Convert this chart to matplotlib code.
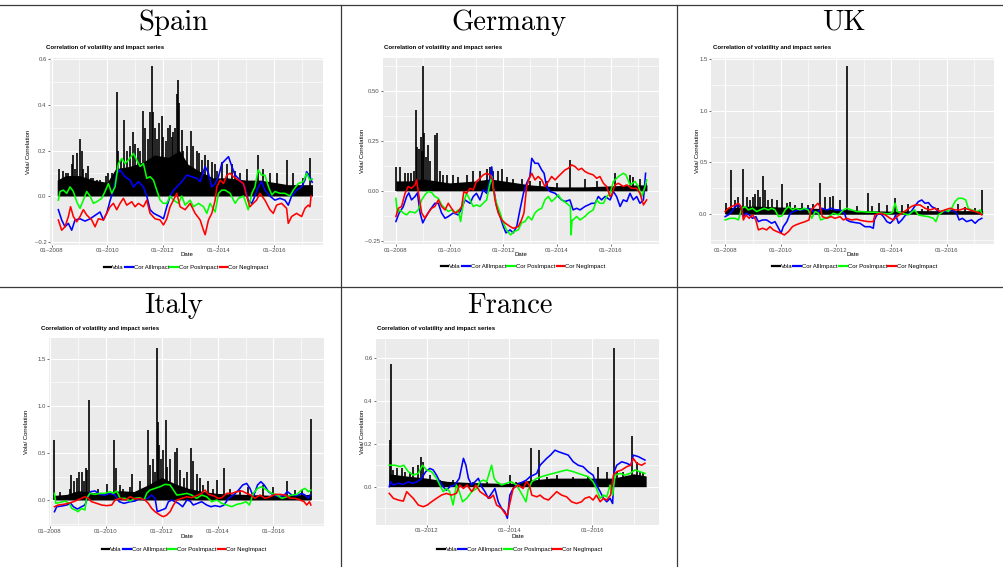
import matplotlib
matplotlib.use('Agg')
import matplotlib.pyplot as plt
from matplotlib.lines import Line2D

plt.rcParams['font.family'] = ['Liberation Sans', 'DejaVu Sans']

# ---------------- DATA (decimal year, value) ----------------
SERIES_NAMES = ['Vola', 'Cor AllImpact', 'Cor PosImpact', 'Cor NegImpact']
SERIES_COLORS = ['#000000', '#0000FF', '#00FF00', '#FF0000']
COUNTRIES = ['Spain', 'Germany', 'UK', 'Italy', 'France']

# ---- Spain ----
ES_ALL = [(2008.24,-0.06),(2008.36,-0.105),(2008.48,-0.135),(2008.60,-0.12),(2008.72,-0.15),(2008.84,-0.105),(2009.02,-0.10),(2009.20,-0.11),(2009.38,-0.10),(2009.56,-0.085),(2009.74,-0.07),(2009.86,-0.105),(2009.98,-0.075),(2010.10,-0.02),(2010.22,0.025),(2010.34,0.10),(2010.46,0.115),(2010.64,0.085),(2010.82,0.07),(2010.94,0.04),(2011.12,0.063),(2011.30,0.04),(2011.42,0.0),(2011.54,-0.06),(2011.66,-0.075),(2011.78,-0.083),(2011.90,-0.09),(2012.02,-0.10),(2012.14,-0.047),(2012.26,0.0),(2012.38,0.025),(2012.50,0.04),(2012.68,0.063),(2012.86,0.092),(2013.04,0.085),(2013.22,0.078),(2013.34,0.063),(2013.52,0.13),(2013.64,0.10),(2013.76,0.04),(2013.88,0.055),(2014.00,0.085),(2014.12,0.143),(2014.24,0.158),(2014.36,0.173),(2014.48,0.13),(2014.60,0.092),(2014.77,0.07),(2014.95,0.04),(2015.07,-0.018),(2015.20,-0.032),(2015.31,0.0),(2015.43,0.04),(2015.55,0.063),(2015.67,0.026),(2015.85,0.0),(2016.03,-0.018),(2016.21,-0.01),(2016.39,-0.018),(2016.51,-0.04),(2016.63,0.0),(2016.81,0.026),(2016.99,0.04),(2017.11,0.07),(2017.17,0.107),(2017.29,0.085),(2017.37,0.06)]
ES_POS = [(2008.24,-0.018),(2008.30,0.02),(2008.42,0.026),(2008.54,0.012),(2008.66,0.04),(2008.78,0.02),(2008.90,-0.025),(2009.02,-0.054),(2009.14,-0.018),(2009.26,0.02),(2009.38,0.0),(2009.50,-0.032),(2009.62,-0.025),(2009.80,-0.01),(2009.92,0.02),(2010.04,0.055),(2010.16,0.012),(2010.28,0.04),(2010.40,0.143),(2010.52,0.165),(2010.64,0.143),(2010.76,0.158),(2010.94,0.187),(2011.06,0.158),(2011.18,0.13),(2011.30,0.143),(2011.42,0.078),(2011.54,0.085),(2011.66,0.07),(2011.78,0.026),(2011.90,-0.018),(2012.02,-0.032),(2012.14,-0.032),(2012.26,0.0),(2012.38,-0.018),(2012.56,-0.032),(2012.68,0.0),(2012.80,-0.04),(2012.98,-0.018),(2013.10,-0.047),(2013.28,-0.032),(2013.46,-0.047),(2013.58,-0.076),(2013.70,-0.032),(2013.88,-0.07),(2014.00,0.012),(2014.12,0.026),(2014.24,0.026),(2014.42,0.012),(2014.60,-0.032),(2014.72,-0.01),(2014.90,0.0),(2015.07,-0.06),(2015.20,0.012),(2015.31,0.04),(2015.43,0.115),(2015.55,0.092),(2015.67,0.092),(2015.80,0.04),(2015.92,0.005),(2016.03,0.02),(2016.21,0.012),(2016.39,0.012),(2016.57,0.0),(2016.69,0.026),(2016.87,0.055),(2017.05,0.063),(2017.17,0.10),(2017.29,0.07),(2017.37,0.075)]
ES_NEG = [(2008.24,-0.105),(2008.36,-0.15),(2008.48,-0.135),(2008.60,-0.09),(2008.68,-0.047),(2008.78,-0.09),(2008.90,-0.113),(2009.02,-0.09),(2009.14,-0.06),(2009.26,-0.083),(2009.44,-0.105),(2009.56,-0.135),(2009.68,-0.10),(2009.86,-0.105),(2009.98,-0.076),(2010.10,-0.047),(2010.22,-0.032),(2010.34,-0.06),(2010.46,-0.032),(2010.58,-0.01),(2010.70,-0.04),(2010.88,-0.025),(2011.00,-0.047),(2011.12,-0.032),(2011.30,-0.047),(2011.42,-0.018),(2011.54,-0.076),(2011.72,-0.10),(2011.90,-0.105),(2012.02,-0.127),(2012.14,-0.10),(2012.26,-0.047),(2012.38,-0.018),(2012.50,0.012),(2012.62,-0.047),(2012.80,-0.06),(2012.98,-0.032),(2013.16,-0.076),(2013.34,-0.105),(2013.46,-0.15),(2013.52,-0.17),(2013.64,-0.105),(2013.76,-0.076),(2013.88,-0.018),(2013.94,0.04),(2014.06,0.07),(2014.18,0.055),(2014.30,0.092),(2014.42,0.10),(2014.54,0.085),(2014.72,0.07),(2014.90,0.055),(2015.01,0.0),(2015.13,-0.047),(2015.25,-0.032),(2015.37,-0.018),(2015.49,0.012),(2015.67,-0.018),(2015.85,-0.06),(2015.97,-0.076),(2016.09,-0.04),(2016.27,-0.032),(2016.45,-0.054),(2016.51,-0.12),(2016.63,-0.09),(2016.81,-0.076),(2016.99,-0.09),(2017.11,-0.054),(2017.23,-0.04),(2017.29,-0.047),(2017.33,0.0)]
ES_VOLA_BASE = [(2008.20,0.07),(2008.50,0.09),(2009.00,0.09),(2009.50,0.07),(2010.00,0.06),(2010.30,0.12),(2010.80,0.13),(2011.30,0.15),(2011.70,0.18),(2012.20,0.17),(2012.60,0.20),(2012.90,0.14),(2013.30,0.11),(2013.80,0.08),(2014.30,0.08),(2015.00,0.07),(2015.50,0.07),(2016.00,0.06),(2016.50,0.05),(2017.00,0.05),(2017.38,0.05)]
ES_VOLA_SPIKES = [(2008.28,0.12),(2008.42,0.11),(2008.52,0.10),(2008.60,0.10),(2008.72,0.14),(2008.76,0.18),(2008.84,0.12),(2008.92,0.19),(2009.02,0.25),(2009.08,0.20),(2009.14,0.12),(2009.24,0.10),(2009.32,0.13),(2009.40,0.08),(2009.50,0.08),(2009.62,0.07),(2009.74,0.07),(2009.95,0.09),(2010.04,0.10),(2010.16,0.10),(2010.34,0.455),(2010.40,0.20),(2010.49,0.16),(2010.60,0.335),(2010.70,0.20),(2010.82,0.22),(2010.91,0.28),(2011.00,0.23),(2011.12,0.21),(2011.18,0.20),(2011.27,0.375),(2011.36,0.30),(2011.45,0.25),(2011.54,0.37),(2011.60,0.57),(2011.66,0.37),(2011.72,0.30),(2011.78,0.25),(2011.87,0.32),(2011.96,0.35),(2012.02,0.26),(2012.10,0.24),(2012.20,0.30),(2012.26,0.31),(2012.32,0.26),(2012.38,0.28),(2012.44,0.30),(2012.50,0.45),(2012.56,0.51),(2012.59,0.41),(2012.68,0.29),(2012.74,0.20),(2012.86,0.22),(2013.00,0.285),(2013.10,0.22),(2013.22,0.20),(2013.31,0.19),(2013.40,0.16),(2013.52,0.18),(2013.64,0.16),(2013.76,0.15),(2013.88,0.14),(2013.96,0.11),(2014.12,0.15),(2014.30,0.14),(2014.48,0.14),(2014.60,0.11),(2014.77,0.10),(2015.01,0.12),(2015.43,0.18),(2015.61,0.12),(2015.85,0.10),(2016.09,0.10),(2016.45,0.16),(2016.69,0.10),(2017.05,0.08),(2017.29,0.165)]

# ---- Germany ----
DE_ALL = [(2008.00,-0.153),(2008.12,-0.11),(2008.27,-0.08),(2008.40,-0.028),(2008.48,-0.01),(2008.58,-0.045),(2008.71,-0.028),(2008.80,-0.01),(2008.90,-0.11),(2009.00,-0.16),(2009.12,-0.128),(2009.27,-0.095),(2009.45,-0.062),(2009.58,-0.062),(2009.70,-0.11),(2009.83,-0.137),(2009.95,-0.128),(2010.14,-0.11),(2010.32,-0.12),(2010.45,-0.087),(2010.57,-0.045),(2010.76,-0.062),(2010.88,-0.028),(2011.00,-0.012),(2011.13,-0.045),(2011.25,0.005),(2011.38,-0.012),(2011.50,0.055),(2011.57,0.12),(2011.63,0.02),(2011.75,-0.078),(2011.88,-0.128),(2012.00,-0.178),(2012.10,-0.21),(2012.25,-0.195),(2012.37,-0.21),(2012.50,-0.178),(2012.62,-0.095),(2012.75,-0.012),(2012.87,0.038),(2012.99,0.072),(2013.06,0.163),(2013.18,0.138),(2013.30,0.138),(2013.43,0.105),(2013.52,0.088),(2013.61,0.022),(2013.74,-0.003),(2013.93,-0.012),(2014.05,-0.028),(2014.17,-0.045),(2014.30,-0.053),(2014.48,-0.045),(2014.60,-0.095),(2014.73,-0.087),(2014.86,-0.095),(2015.04,-0.078),(2015.17,-0.07),(2015.29,-0.062),(2015.42,-0.062),(2015.54,-0.028),(2015.66,-0.045),(2015.79,-0.028),(2015.98,-0.045),(2016.10,-0.003),(2016.22,-0.028),(2016.35,-0.078),(2016.47,-0.045),(2016.60,-0.053),(2016.72,-0.012),(2016.84,-0.045),(2016.97,-0.028),(2017.09,-0.062),(2017.22,-0.045),(2017.30,0.088)]
DE_POS = [(2008.00,-0.037),(2008.05,-0.11),(2008.15,-0.095),(2008.27,-0.11),(2008.40,-0.12),(2008.52,-0.103),(2008.71,-0.11),(2008.83,-0.095),(2008.96,-0.045),(2009.08,-0.02),(2009.20,-0.003),(2009.33,-0.008),(2009.45,-0.028),(2009.58,-0.037),(2009.70,-0.07),(2009.83,-0.087),(2009.95,-0.103),(2010.07,-0.095),(2010.20,-0.11),(2010.32,-0.095),(2010.41,-0.153),(2010.51,-0.062),(2010.63,-0.012),(2010.76,-0.045),(2010.88,-0.078),(2011.00,-0.07),(2011.13,-0.078),(2011.25,-0.062),(2011.38,-0.045),(2011.48,0.022),(2011.57,0.072),(2011.65,-0.012),(2011.75,-0.062),(2011.88,-0.11),(2012.00,-0.16),(2012.12,-0.195),(2012.27,-0.22),(2012.40,-0.203),(2012.56,-0.195),(2012.68,-0.16),(2012.81,-0.153),(2012.93,-0.128),(2013.06,-0.145),(2013.18,-0.11),(2013.30,-0.095),(2013.43,-0.087),(2013.55,-0.045),(2013.68,-0.028),(2013.80,-0.053),(2013.93,-0.037),(2014.05,-0.02),(2014.17,-0.045),(2014.36,-0.062),(2014.50,-0.078),(2014.52,-0.22),(2014.56,-0.15),(2014.73,-0.128),(2014.86,-0.145),(2015.04,-0.128),(2015.17,-0.11),(2015.35,-0.095),(2015.48,-0.045),(2015.60,-0.062),(2015.73,-0.062),(2015.85,-0.028),(2015.98,-0.012),(2016.10,0.047),(2016.29,0.072),(2016.47,0.088),(2016.57,0.08),(2016.72,0.03),(2016.91,0.047),(2017.03,0.022),(2017.16,-0.028),(2017.28,0.022),(2017.34,0.055)]
DE_NEG = [(2008.00,-0.128),(2008.09,-0.087),(2008.21,-0.078),(2008.34,-0.012),(2008.46,0.022),(2008.58,0.013),(2008.71,0.03),(2008.77,0.055),(2008.86,-0.028),(2008.96,-0.11),(2009.08,-0.137),(2009.20,-0.11),(2009.33,-0.087),(2009.45,-0.078),(2009.58,-0.045),(2009.70,-0.078),(2009.83,-0.095),(2009.95,-0.062),(2010.07,-0.087),(2010.20,-0.11),(2010.32,-0.103),(2010.45,-0.078),(2010.53,-0.003),(2010.63,-0.012),(2010.76,0.013),(2010.88,0.005),(2011.00,0.047),(2011.13,0.063),(2011.25,0.08),(2011.38,0.088),(2011.50,0.08),(2011.60,0.055),(2011.69,-0.045),(2011.81,-0.11),(2011.94,-0.145),(2012.06,-0.16),(2012.25,-0.178),(2012.37,-0.187),(2012.56,-0.178),(2012.68,-0.145),(2012.77,-0.11),(2012.87,0.022),(2012.97,0.063),(2013.06,0.088),(2013.18,0.055),(2013.30,0.072),(2013.43,0.055),(2013.55,0.022),(2013.68,0.047),(2013.80,0.072),(2013.93,0.055),(2014.05,0.072),(2014.17,0.088),(2014.30,0.105),(2014.42,0.113),(2014.55,0.13),(2014.67,0.122),(2014.80,0.105),(2014.92,0.113),(2015.04,0.097),(2015.17,0.088),(2015.35,0.08),(2015.48,0.063),(2015.60,0.072),(2015.73,0.038),(2015.85,0.022),(2015.98,-0.028),(2016.04,-0.02),(2016.16,0.03),(2016.29,0.038),(2016.47,0.022),(2016.60,0.03),(2016.78,0.013),(2016.97,0.013),(2017.09,-0.012),(2017.22,-0.07),(2017.34,-0.045)]
DE_VOLA_BASE = [(2008.00,0.05),(2008.50,0.05),(2009.00,0.06),(2009.50,0.05),(2010.00,0.04),(2011.00,0.05),(2011.50,0.06),(2012.00,0.05),(2012.50,0.04),(2013.00,0.03),(2014.00,0.02),(2015.00,0.02),(2016.00,0.025),(2017.00,0.03),(2017.35,0.03)]
DE_VOLA_SPIKES = [(2008.02,0.12),(2008.15,0.12),(2008.34,0.09),(2008.46,0.09),(2008.58,0.09),(2008.67,0.10),(2008.75,0.405),(2008.80,0.22),(2008.87,0.21),(2008.92,0.27),(2008.97,0.20),(2009.02,0.625),(2009.06,0.29),(2009.12,0.17),(2009.18,0.23),(2009.27,0.15),(2009.45,0.28),(2009.52,0.29),(2009.64,0.10),(2009.76,0.08),(2009.89,0.08),(2010.14,0.08),(2010.32,0.07),(2010.63,0.08),(2010.88,0.10),(2011.13,0.10),(2011.38,0.11),(2011.50,0.12),(2011.63,0.10),(2011.81,0.10),(2011.94,0.11),(2012.12,0.07),(2012.37,0.06),(2012.68,0.06),(2012.99,0.05),(2013.37,0.05),(2013.61,0.05),(2013.99,0.04),(2014.48,0.155),(2015.04,0.06),(2015.48,0.05),(2016.16,0.09),(2016.72,0.08),(2016.84,0.07),(2017.09,0.06),(2017.30,0.04)]

# ---- UK ----
UK_ALL = [(2008.00,-0.023),(2008.12,-0.006),(2008.24,0.026),(2008.36,0.074),(2008.48,0.09),(2008.60,0.058),(2008.66,-0.023),(2008.75,0.01),(2008.87,-0.006),(2008.99,-0.039),(2009.11,-0.023),(2009.20,-0.071),(2009.35,-0.055),(2009.50,-0.055),(2009.68,-0.087),(2009.80,-0.071),(2009.93,-0.135),(2010.02,-0.183),(2010.10,-0.12),(2010.23,-0.071),(2010.35,0.01),(2010.47,0.026),(2010.65,0.042),(2010.83,0.042),(2011.00,0.058),(2011.13,0.042),(2011.25,0.01),(2011.37,0.026),(2011.49,0.058),(2011.67,0.042),(2011.85,0.058),(2011.97,0.042),(2012.15,0.042),(2012.31,0.01),(2012.39,-0.055),(2012.51,-0.071),(2012.69,-0.08),(2012.87,-0.087),(2013.05,-0.12),(2013.23,-0.12),(2013.35,-0.135),(2013.39,-0.055),(2013.48,-0.006),(2013.60,0.01),(2013.72,-0.023),(2013.84,-0.071),(2013.96,-0.087),(2014.08,-0.055),(2014.16,-0.006),(2014.26,-0.087),(2014.38,-0.055),(2014.52,-0.006),(2014.68,0.01),(2014.84,0.074),(2014.98,0.122),(2015.10,0.138),(2015.22,0.106),(2015.34,0.113),(2015.46,0.074),(2015.58,0.058),(2015.70,0.026),(2015.88,0.026),(2016.06,0.026),(2016.24,0.042),(2016.36,0.01),(2016.45,-0.055),(2016.57,-0.039),(2016.72,-0.071),(2016.90,-0.055),(2017.03,-0.087),(2017.15,-0.055),(2017.27,-0.039)]
UK_POS = [(2008.00,-0.055),(2008.18,-0.039),(2008.36,-0.039),(2008.48,-0.055),(2008.60,0.058),(2008.72,0.074),(2008.84,0.042),(2008.99,0.058),(2009.14,0.026),(2009.26,0.042),(2009.42,0.058),(2009.56,0.042),(2009.68,0.058),(2009.80,0.042),(2009.93,-0.023),(2010.05,-0.016),(2010.17,0.042),(2010.29,0.074),(2010.43,0.042),(2010.55,0.058),(2010.71,0.042),(2010.86,0.058),(2011.00,0.042),(2011.13,-0.039),(2011.25,0.026),(2011.37,0.01),(2011.45,-0.055),(2011.61,-0.039),(2011.75,-0.023),(2011.91,0.01),(2012.09,-0.006),(2012.27,0.042),(2012.39,0.058),(2012.57,0.042),(2012.75,0.026),(2012.93,0.026),(2013.17,0.02),(2013.41,0.02),(2013.66,0.01),(2013.90,0.003),(2014.04,0.016),(2014.14,0.106),(2014.22,0.026),(2014.38,0.01),(2014.62,-0.006),(2014.84,0.042),(2014.98,-0.006),(2015.16,-0.016),(2015.34,-0.023),(2015.52,-0.039),(2015.61,-0.071),(2015.70,-0.006),(2015.82,0.016),(2015.94,0.042),(2016.06,0.026),(2016.18,0.058),(2016.30,0.122),(2016.42,0.154),(2016.57,0.154),(2016.69,0.138),(2016.78,0.058),(2016.90,0.042),(2017.09,0.026),(2017.21,0.042),(2017.27,0.01)]
UK_NEG = [(2008.00,0.026),(2008.12,0.058),(2008.24,0.074),(2008.36,0.09),(2008.48,0.106),(2008.58,0.074),(2008.66,-0.055),(2008.75,-0.006),(2008.87,-0.039),(2008.99,-0.006),(2009.11,-0.055),(2009.20,-0.151),(2009.35,-0.135),(2009.50,-0.151),(2009.62,-0.12),(2009.74,-0.151),(2009.87,-0.167),(2010.02,-0.183),(2010.14,-0.20),(2010.29,-0.167),(2010.43,-0.12),(2010.55,-0.103),(2010.71,-0.087),(2010.89,-0.071),(2011.03,-0.055),(2011.10,0.042),(2011.23,0.074),(2011.35,0.106),(2011.43,0.074),(2011.51,-0.023),(2011.67,-0.039),(2011.83,-0.023),(2011.97,-0.039),(2012.15,-0.023),(2012.27,-0.055),(2012.39,-0.039),(2012.55,-0.055),(2012.75,-0.048),(2012.93,-0.061),(2013.17,-0.071),(2013.35,-0.071),(2013.41,-0.006),(2013.60,0.01),(2013.78,-0.006),(2013.96,-0.039),(2014.08,-0.055),(2014.20,-0.023),(2014.38,0.01),(2014.56,0.042),(2014.72,0.074),(2014.86,0.09),(2015.04,0.09),(2015.22,0.058),(2015.40,0.042),(2015.58,0.058),(2015.76,0.026),(2015.94,0.042),(2016.12,0.058),(2016.30,0.042),(2016.48,0.042),(2016.66,0.058),(2016.84,0.042),(2017.03,0.026),(2017.21,0.01),(2017.27,-0.006)]
UK_VOLA_BASE = [(2008.00,0.06),(2009.00,0.08),(2010.00,0.07),(2011.00,0.06),(2012.00,0.05),(2013.00,0.035),(2014.00,0.03),(2015.00,0.035),(2016.00,0.035),(2017.30,0.035)]
UK_VOLA_SPIKES = [(2008.04,0.11),(2008.22,0.43),(2008.36,0.14),(2008.48,0.17),(2008.66,0.44),(2008.78,0.17),(2008.90,0.14),(2009.00,0.17),(2009.08,0.20),(2009.17,0.23),(2009.26,0.17),(2009.38,0.365),(2009.44,0.23),(2009.56,0.14),(2009.68,0.15),(2009.87,0.14),(2010.07,0.29),(2010.23,0.11),(2010.35,0.12),(2010.53,0.09),(2010.77,0.11),(2011.01,0.09),(2011.19,0.10),(2011.41,0.30),(2011.61,0.17),(2011.79,0.17),(2011.91,0.18),(2012.15,0.14),(2012.39,1.43),(2012.75,0.08),(2013.15,0.21),(2013.29,0.08),(2013.54,0.11),(2013.84,0.09),(2014.14,0.16),(2014.38,0.09),(2014.62,0.10),(2015.10,0.05),(2015.34,0.08),(2015.70,0.06),(2016.40,0.10),(2016.66,0.07),(2017.03,0.06),(2017.29,0.23)]

# ---- Italy ----
IT_ALL = [(2008.16,-0.124),(2008.24,-0.071),(2008.42,-0.064),(2008.60,-0.053),(2008.74,-0.035),(2008.84,-0.071),(2008.98,-0.096),(2009.13,-0.071),(2009.25,-0.053),(2009.34,0.018),(2009.46,0.089),(2009.61,0.096),(2009.79,0.06),(2009.97,0.053),(2010.15,0.071),(2010.33,0.053),(2010.48,-0.018),(2010.65,-0.035),(2010.87,-0.018),(2011.04,-0.011),(2011.22,0.018),(2011.37,0.0),(2011.49,0.018),(2011.64,0.053),(2011.76,0.018),(2011.84,-0.124),(2012.00,-0.106),(2012.14,-0.089),(2012.24,-0.018),(2012.36,0.0),(2012.48,-0.018),(2012.60,-0.035),(2012.75,-0.071),(2012.90,0.0),(2013.02,-0.011),(2013.13,-0.053),(2013.28,-0.035),(2013.43,-0.018),(2013.61,-0.053),(2013.76,-0.071),(2013.91,-0.06),(2014.09,-0.071),(2014.23,-0.053),(2014.39,0.018),(2014.57,0.053),(2014.75,0.106),(2014.90,0.16),(2015.04,0.177),(2015.16,0.124),(2015.28,0.035),(2015.43,0.16),(2015.55,0.195),(2015.67,0.16),(2015.82,0.089),(2016.00,0.053),(2016.18,0.035),(2016.36,0.046),(2016.50,0.089),(2016.66,0.053),(2016.84,0.046),(2017.01,0.071),(2017.13,0.053),(2017.25,0.018),(2017.31,0.053)]
IT_POS = [(2008.16,0.071),(2008.21,-0.035),(2008.36,-0.025),(2008.54,-0.011),(2008.69,-0.035),(2008.78,-0.089),(2008.90,-0.106),(2009.01,-0.124),(2009.13,-0.089),(2009.25,-0.106),(2009.31,0.018),(2009.43,0.071),(2009.61,0.06),(2009.79,0.071),(2009.97,0.071),(2010.15,0.089),(2010.27,0.071),(2010.39,0.096),(2010.51,0.018),(2010.69,0.018),(2010.87,-0.011),(2011.04,0.018),(2011.22,0.025),(2011.37,0.0),(2011.46,0.071),(2011.58,0.106),(2011.76,0.124),(2011.94,0.142),(2012.12,0.167),(2012.30,0.16),(2012.42,0.106),(2012.54,0.053),(2012.72,0.06),(2012.90,0.071),(2013.07,0.053),(2013.25,0.018),(2013.43,0.053),(2013.61,0.035),(2013.79,-0.018),(2013.97,0.0),(2014.15,-0.035),(2014.33,-0.053),(2014.51,-0.071),(2014.69,-0.046),(2014.87,-0.035),(2015.02,-0.018),(2015.14,-0.053),(2015.28,0.071),(2015.43,0.124),(2015.58,0.142),(2015.76,0.106),(2015.94,0.071),(2016.12,0.053),(2016.30,0.018),(2016.48,0.035),(2016.66,0.053),(2016.84,0.06),(2017.01,0.106),(2017.13,0.124),(2017.25,0.089),(2017.34,0.106)]
IT_NEG = [(2008.16,-0.071),(2008.30,-0.053),(2008.48,-0.046),(2008.66,-0.035),(2008.84,-0.018),(2008.98,0.0),(2009.13,0.018),(2009.25,0.035),(2009.37,0.018),(2009.49,-0.018),(2009.67,-0.035),(2009.85,-0.053),(2010.03,-0.06),(2010.21,-0.053),(2010.33,0.0),(2010.51,0.018),(2010.69,0.0),(2010.87,0.035),(2011.04,0.011),(2011.22,0.018),(2011.40,0.0),(2011.52,-0.035),(2011.64,-0.089),(2011.76,-0.124),(2011.94,-0.16),(2012.06,-0.177),(2012.18,-0.16),(2012.30,-0.124),(2012.42,-0.053),(2012.54,0.0),(2012.72,0.018),(2012.90,0.035),(2013.07,0.025),(2013.25,0.046),(2013.43,0.071),(2013.55,0.106),(2013.67,0.06),(2013.85,0.046),(2014.03,0.018),(2014.15,0.025),(2014.33,0.071),(2014.51,0.071),(2014.69,0.089),(2014.87,0.096),(2015.04,0.071),(2015.19,0.053),(2015.34,0.018),(2015.52,0.053),(2015.70,0.018),(2015.88,0.035),(2016.06,0.06),(2016.24,0.06),(2016.42,0.053),(2016.60,0.018),(2016.78,0.018),(2016.96,0.0),(2017.10,-0.018),(2017.19,-0.053),(2017.29,-0.018),(2017.34,-0.053)]
IT_VOLA_BASE = [(2008.16,0.05),(2008.60,0.06),(2009.00,0.10),(2009.50,0.08),(2010.00,0.07),(2010.50,0.10),(2011.00,0.09),(2011.50,0.16),(2012.00,0.24),(2012.50,0.17),(2013.00,0.12),(2013.50,0.09),(2014.00,0.07),(2015.00,0.06),(2016.00,0.05),(2017.34,0.06)]
IT_VOLA_SPIKES = [(2008.16,0.64),(2008.36,0.09),(2008.72,0.12),(2008.74,0.27),(2008.86,0.20),(2008.98,0.23),(2009.05,0.30),(2009.13,0.30),(2009.22,0.20),(2009.29,0.34),(2009.34,0.32),(2009.40,1.06),(2009.73,0.12),(2010.05,0.17),(2010.30,0.64),(2010.36,0.34),(2010.51,0.16),(2010.63,0.12),(2010.87,0.14),(2010.95,0.28),(2011.22,0.20),(2011.46,0.12),(2011.50,0.745),(2011.58,0.37),(2011.70,0.44),(2011.76,0.30),(2011.82,1.62),(2011.86,0.83),(2011.92,0.58),(2011.96,0.44),(2012.06,0.53),(2012.14,0.85),(2012.20,0.35),(2012.30,0.44),(2012.48,0.51),(2012.54,0.55),(2012.66,0.32),(2012.78,0.23),(2012.90,0.30),(2013.04,0.55),(2013.13,0.42),(2013.25,0.28),(2013.37,0.23),(2013.49,0.16),(2013.67,0.20),(2013.85,0.12),(2013.99,0.21),(2014.23,0.34),(2014.45,0.12),(2014.81,0.11),(2015.10,0.14),(2015.64,0.16),(2016.00,0.14),(2016.48,0.20),(2016.78,0.11),(2017.01,0.11),(2017.34,0.86)]

# ---- France ----
FR_ALL = [(2011.10,0.0),(2011.13,0.023),(2011.20,0.008),(2011.32,0.016),(2011.44,0.011),(2011.56,0.023),(2011.66,0.016),(2011.77,0.023),(2011.88,0.039),(2011.98,0.07),(2012.08,0.085),(2012.16,0.078),(2012.24,0.054),(2012.32,0.023),(2012.40,0.0),(2012.48,-0.016),(2012.56,0.0),(2012.68,0.008),(2012.79,0.039),(2012.89,0.132),(2012.95,0.10),(2013.01,0.039),(2013.09,0.008),(2013.17,0.023),(2013.25,0.039),(2013.33,0.0),(2013.41,-0.023),(2013.49,-0.054),(2013.57,-0.031),(2013.65,-0.008),(2013.73,-0.07),(2013.81,-0.10),(2013.89,-0.116),(2013.95,-0.147),(2014.01,-0.039),(2014.09,-0.008),(2014.17,0.008),(2014.25,0.016),(2014.33,0.023),(2014.41,0.031),(2014.50,0.047),(2014.58,0.054),(2014.66,0.062),(2014.74,0.10),(2014.82,0.116),(2014.90,0.132),(2014.99,0.147),(2015.10,0.17),(2015.18,0.163),(2015.30,0.155),(2015.42,0.147),(2015.54,0.116),(2015.66,0.10),(2015.78,0.093),(2015.90,0.07),(2016.02,0.054),(2016.10,0.008),(2016.19,-0.023),(2016.27,-0.054),(2016.35,-0.07),(2016.43,-0.054),(2016.49,-0.078),(2016.53,0.07),(2016.59,0.10),(2016.71,0.116),(2016.83,0.109),(2016.93,0.10),(2016.99,0.147),(2017.11,0.14),(2017.19,0.132),(2017.27,0.124)]
FR_POS = [(2011.10,0.10),(2011.24,0.10),(2011.36,0.093),(2011.45,0.10),(2011.56,0.07),(2011.68,0.054),(2011.80,0.062),(2011.90,0.10),(2012.00,0.078),(2012.12,0.07),(2012.24,0.039),(2012.32,0.008),(2012.40,-0.023),(2012.48,-0.008),(2012.56,-0.023),(2012.64,-0.085),(2012.72,0.008),(2012.79,-0.023),(2012.87,-0.07),(2012.97,-0.054),(2013.09,-0.023),(2013.21,-0.008),(2013.29,0.023),(2013.37,0.031),(2013.45,0.023),(2013.57,0.10),(2013.63,0.039),(2013.69,0.023),(2013.81,0.008),(2013.93,0.016),(2014.05,0.023),(2014.17,0.008),(2014.29,-0.031),(2014.40,-0.07),(2014.45,-0.016),(2014.54,0.023),(2014.66,0.039),(2014.78,0.047),(2014.90,0.054),(2015.06,0.062),(2015.22,0.07),(2015.38,0.078),(2015.54,0.07),(2015.66,0.062),(2015.78,0.054),(2015.90,0.047),(2016.02,0.023),(2016.10,-0.008),(2016.19,-0.054),(2016.27,-0.039),(2016.35,-0.047),(2016.43,0.008),(2016.49,-0.039),(2016.55,0.054),(2016.67,0.062),(2016.79,0.054),(2016.91,0.062),(2017.03,0.078),(2017.15,0.07),(2017.27,0.062)]
FR_NEG = [(2011.10,-0.031),(2011.20,-0.054),(2011.32,-0.062),(2011.44,-0.067),(2011.52,-0.023),(2011.60,-0.039),(2011.68,-0.054),(2011.80,-0.085),(2011.92,-0.093),(2012.02,-0.085),(2012.12,-0.07),(2012.24,-0.054),(2012.36,-0.039),(2012.48,-0.031),(2012.60,-0.039),(2012.72,-0.031),(2012.80,0.008),(2012.89,-0.008),(2012.98,0.008),(2013.09,-0.023),(2013.19,0.008),(2013.29,-0.023),(2013.41,-0.039),(2013.53,-0.054),(2013.61,-0.039),(2013.69,-0.085),(2013.81,-0.10),(2013.89,-0.124),(2013.95,-0.132),(2014.00,-0.085),(2014.09,-0.008),(2014.21,0.008),(2014.33,-0.008),(2014.41,0.023),(2014.48,0.008),(2014.54,-0.039),(2014.66,-0.047),(2014.74,-0.039),(2014.83,-0.054),(2014.94,-0.062),(2015.06,-0.039),(2015.14,-0.023),(2015.26,-0.039),(2015.38,-0.047),(2015.50,-0.07),(2015.62,-0.078),(2015.74,-0.07),(2015.82,-0.054),(2015.93,-0.047),(2016.02,-0.062),(2016.10,-0.039),(2016.19,-0.07),(2016.27,-0.054),(2016.35,-0.062),(2016.44,-0.039),(2016.51,0.054),(2016.59,0.07),(2016.71,0.078),(2016.83,0.093),(2016.93,0.10),(2016.99,0.132),(2017.07,0.109),(2017.19,0.10),(2017.27,0.109)]
FR_VOLA_BASE = [(2011.10,0.06),(2011.50,0.05),(2012.00,0.04),(2012.50,0.025),(2013.00,0.02),(2014.00,0.015),(2014.50,0.03),(2015.00,0.04),(2016.00,0.04),(2016.50,0.04),(2017.00,0.06),(2017.30,0.05)]
FR_VOLA_SPIKES = [(2011.11,0.217),(2011.15,0.57),(2011.20,0.078),(2011.29,0.085),(2011.40,0.085),(2011.48,0.07),(2011.60,0.07),(2011.68,0.093),(2011.80,0.10),(2011.86,0.14),(2011.92,0.116),(2012.08,0.054),(2012.32,0.031),(2012.64,0.031),(2013.13,0.023),(2013.45,0.023),(2014.01,0.054),(2014.17,0.023),(2014.51,0.178),(2014.71,0.17),(2014.90,0.047),(2015.14,0.054),(2015.54,0.047),(2015.90,0.047),(2016.14,0.093),(2016.35,0.07),(2016.52,0.643),(2016.59,0.07),(2016.75,0.07),(2016.97,0.237),(2017.07,0.116),(2017.15,0.07),(2017.23,0.07)]

DATA = {
    'Spain':   (ES_VOLA_BASE, ES_VOLA_SPIKES, ES_ALL, ES_POS, ES_NEG),
    'Germany': (DE_VOLA_BASE, DE_VOLA_SPIKES, DE_ALL, DE_POS, DE_NEG),
    'UK':      (UK_VOLA_BASE, UK_VOLA_SPIKES, UK_ALL, UK_POS, UK_NEG),
    'Italy':   (IT_VOLA_BASE, IT_VOLA_SPIKES, IT_ALL, IT_POS, IT_NEG),
    'France':  (FR_VOLA_BASE, FR_VOLA_SPIKES, FR_ALL, FR_POS, FR_NEG),
}

# axis tick values / labels
YEAR_TICKS_LONG = [2008, 2010, 2012, 2014, 2016]
YEAR_MINOR_LONG = [2009, 2011, 2013, 2015, 2017]
YEAR_TICKS_FR = [2012, 2014, 2016]
YEAR_MINOR_FR = [2011, 2013, 2015, 2017]
Y_TICKS = {
    'Spain':   ([-0.2, 0.0, 0.2, 0.4, 0.6], ['\u20130.2', '0.0', '0.2', '0.4', '0.6'], [-0.1, 0.1, 0.3, 0.5]),
    'Germany': ([-0.25, 0.0, 0.25, 0.5], ['\u20130.25', '0.00', '0.25', '0.50'], [-0.125, 0.125, 0.375, 0.625]),
    'UK':      ([0.0, 0.5, 1.0, 1.5], ['0.0', '0.5', '1.0', '1.5'], [-0.25, 0.25, 0.75, 1.25]),
    'Italy':   ([0.0, 0.5, 1.0, 1.5], ['0.0', '0.5', '1.0', '1.5'], [-0.25, 0.25, 0.75, 1.25]),
    'France':  ([0.0, 0.2, 0.4, 0.6], ['0.0', '0.2', '0.4', '0.6'], [-0.1, 0.1, 0.3, 0.5]),
}

# ---------------- LAYOUT (pixels) ----------------
W, H = 1004, 567
LAYOUT = {
    'Spain':   dict(rect=(50, 58.3, 323.3, 245), xlim=(2007.94, 2017.77), ylim=(-0.215, 0.605),
                    title=(173.3, 30), sub=(45.7, 47), ylab=28.3, leg=(186, 267), date=255),
    'Germany': dict(rect=(383.3, 58.3, 659, 244.3), xlim=(2007.53, 2017.8), ylim=(-0.267, 0.663),
                    title=(509.2, 29.5), sub=(384.3, 47), ylab=362.7, leg=(523, 266.7), date=255),
    'UK':      dict(rect=(711, 58.3, 994, 244.3), xlim=(2007.49, 2017.71), ylim=(-0.29, 1.506),
                    title=(844.2, 30), sub=(712.7, 47), ylab=697.7, leg=(854.5, 266.7), date=255),
    'Italy':   dict(rect=(49.3, 338.3, 324, 525.7), xlim=(2007.975, 2017.81), ylim=(-0.273, 1.72),
                    title=(173.3, 313.3), sub=(41.3, 328.3), ylab=26.7, leg=(184, 549), date=536.7),
    'France':  dict(rect=(376, 339, 659, 525), xlim=(2010.78, 2017.61), ylim=(-0.178, 0.687),
                    title=(510, 313.3), sub=(377.3, 328.3), ylab=362.7, leg=(519.5, 549), date=536.7),
}

fig = plt.figure(figsize=(W / 100, H / 100), dpi=100)
fig.patch.set_facecolor('white')


def fx(x):
    return x / W


def fy(y):
    return 1 - y / H


for (x0, y0, x1, y1) in [(0, 5, W, 5), (0, 286.7, W, 286.7), (341, 5, 341, H), (676.7, 5, 676.7, H)]:
    fig.add_artist(Line2D([fx(x0), fx(x1)], [fy(y0), fy(y1)], transform=fig.transFigure,
                          color='#3a3a3a', lw=0.9))

TICK_FS = 4.3
for name in COUNTRIES:
    L = LAYOUT[name]
    l, t, r, b = L['rect']
    ax = fig.add_axes([fx(l), fy(b), (r - l) / W, (b - t) / H])
    ax.set_facecolor('#EBEBEB')
    for s in ax.spines.values():
        s.set_visible(False)
    ax.set_xlim(*L['xlim'])
    ax.set_ylim(*L['ylim'])
    if name == 'France':
        xt, xm = YEAR_TICKS_FR, YEAR_MINOR_FR
    else:
        xt, xm = YEAR_TICKS_LONG, YEAR_MINOR_LONG
    ax.set_xticks(xt)
    ax.set_xticklabels(['01\u2013%d' % y for y in xt])
    ax.set_xticks(xm, minor=True)
    yt, ytl, ym = Y_TICKS[name]
    ax.set_yticks(yt)
    ax.set_yticklabels(ytl)
    ax.set_yticks(ym, minor=True)
    ax.set_axisbelow(True)
    ax.grid(which='major', color='white', lw=0.85)
    ax.grid(which='minor', color='white', lw=0.45)
    ax.tick_params(which='minor', length=0)
    ax.tick_params(which='major', length=1.5, width=0.5, color='#333333',
                   labelsize=TICK_FS, labelcolor='#4D4D4D', pad=1)

    base, spikes, s_all, s_pos, s_neg = DATA[name]
    ax.fill_between([p[0] for p in base], 0, [p[1] for p in base], color='black', lw=0, zorder=2)
    ax.vlines([p[0] for p in spikes], 0, [p[1] for p in spikes], color='black', lw=1.2, zorder=2)
    for ser, col, z in zip((s_all, s_pos, s_neg), SERIES_COLORS[1:], (3, 4, 5)):
        ax.plot([p[0] for p in ser], [p[1] for p in ser], color=col, lw=1.15, zorder=z,
                solid_joinstyle='round')

    fig.text(fx(L['title'][0]), fy(L['title'][1]), name, family='cmr10', fontsize=20.6,
             ha='center', va='baseline', color='black')
    fig.text(fx(L['sub'][0]), fy(L['sub'][1]), 'Correlation of volatility and impact series',
             fontsize=4.3, fontweight='bold', ha='left', va='center', color='black')
    fig.text(fx(L['ylab']), fy((t + b) / 2), 'Vola/ Correlation', fontsize=4.3, rotation=90,
             ha='center', va='center', color='black')
    fig.text(fx((l + r) / 2), fy(L['date']), 'Date', fontsize=4.3, ha='center', va='center',
             color='black')
    handles = [Line2D([], [], color=c, lw=1.6) for c in SERIES_COLORS]
    fig.legend(handles, SERIES_NAMES, loc='center', bbox_to_anchor=(fx(L['leg'][0]), fy(L['leg'][1])),
               ncol=4, frameon=False, fontsize=4.3, handlelength=1.3, handletextpad=0.15,
               columnspacing=0.2, borderpad=0, borderaxespad=0)

fig.savefig('out.png', dpi=100, facecolor='white')
